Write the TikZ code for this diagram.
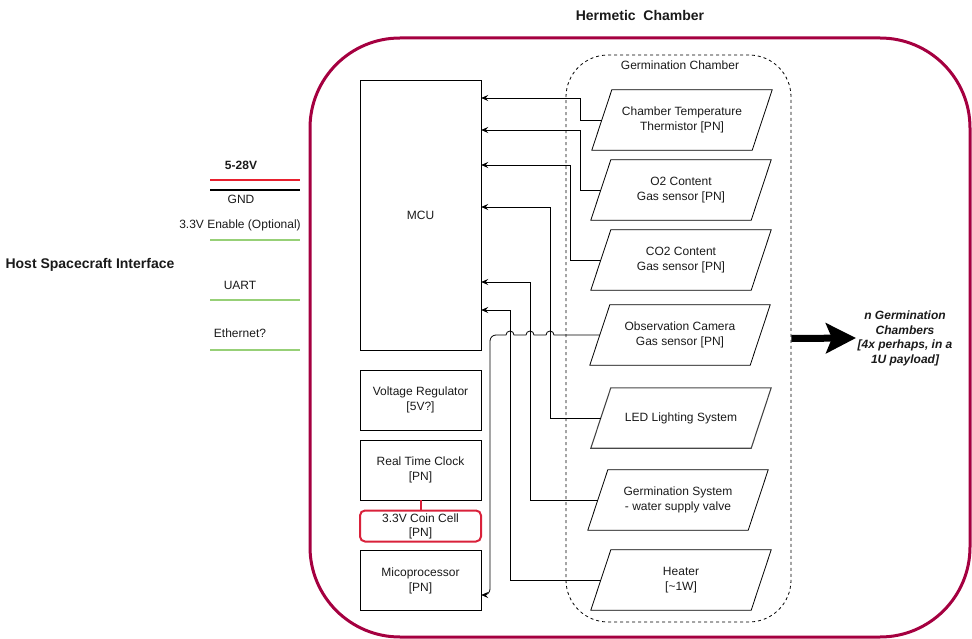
\documentclass[tikz,border=0pt]{standalone}
\usepackage{fontspec}
\setmainfont{Liberation Sans}
\usetikzlibrary{shapes.geometric,arrows.meta}
\definecolor{herm}{HTML}{A50040}
\definecolor{wred}{HTML}{E8202E}
\definecolor{wgreen}{HTML}{97D077}
\definecolor{coinred}{HTML}{D9213A}
\definecolor{txt}{HTML}{1A1A1A}
\newcommand\parashape[2][]{\draw[line width=0.8pt,#1] ([xshift=10pt]#2.north west) -- ([xshift=10pt]#2.north east)
  -- ([xshift=-10pt]#2.south east) -- ([xshift=-10pt]#2.south west) -- cycle;}
\begin{document}
\begin{tikzpicture}[x=1pt,y=-1pt,
  f12/.style={font=\fontsize{12}{15}\selectfont},
  box/.style={draw, rectangle, minimum width=121pt, inner sep=0pt, align=center, text=txt, f12},
  para/.style={rectangle, minimum width=160pt, minimum height=60pt, inner sep=0pt,
    align=center, text=txt, f12},
  arr/.style={-{Stealth[length=7pt,width=6pt,inset=2.5pt]}, line width=0.8pt},
  lbl/.style={inner sep=0pt, text=txt, f12, align=center},
  wire/.style={line width=1.6pt}
]
\useasboundingbox (0,0) rectangle (972,639);

% chambers
\node[draw=herm, line width=3pt, rounded corners=90pt, minimum width=660pt, minimum height=599pt] (herm) at (640,337.5) {};
\node[draw, line width=0.8pt, dash pattern=on 3pt off 3pt, rounded corners=42pt, minimum width=225pt, minimum height=567pt] (gc) at (678.5,338.5) {};
\node[lbl, font=\bfseries\fontsize{14}{16}\selectfont] (hermlbl) at (640,15) {Hermetic\ \ Chamber};
\node[lbl] (gclbl) at (680,65) {Germination Chamber};

% left column boxes
\node[box, minimum height=270pt] (mcu) at (420.5,215) {MCU};
\node[box, minimum height=60pt] (vr) at (420.5,400) {Voltage Regulator\\{[5V?]}};
\node[box, minimum height=60pt] (rtc) at (420.5,470) {Real Time Clock\\{[PN]}};
\node[box, draw=coinred, line width=2pt, rounded corners=5pt, minimum height=31pt,
  font=\fontsize{12}{14}\selectfont] (coin) at (420.5,526) {3.3V Coin Cell\\{[PN]}};
\node[box, minimum height=60pt] (mp) at (420.5,580.5) {Micoprocessor\\{[PN]}};
\draw[coinred, line width=2pt] (rtc.south) -- (coin.north);

% parallelograms
\node[para] (ct) at (682,120) {Chamber Temperature\\Thermistor [PN]};
\node[para] (o2) at (681,190) {O2 Content\\Gas sensor [PN]};
\node[para] (co2) at (681,260) {CO2 Content\\Gas sensor [PN]};
\node[para] (cam) at (680,335) {Observation Camera\\Gas sensor [PN]};
\node[para] (led) at (681,418) {LED Lighting System};
\node[para] (gs) at (678,500) {Germination System\\- water supply valve};
\node[para] (ht) at (681,580) {Heater\\{[\textasciitilde1W]}};
\parashape{ct}
\parashape{o2}
\parashape{co2}
\parashape{cam}
\parashape[draw={rgb,255:red,70;green,70;blue,70}, line width=1.1pt]{led}
\parashape{gs}
\parashape{ht}

% connectors to MCU
\draw[arr] (ct.west) -| (580,98) -- (mcu.east |- 0,98);
\draw[arr] (o2.west) -| (580,130) -- (mcu.east |- 0,130);
\draw[arr] (co2.west) -| (570,165) -- (mcu.east |- 0,165);
\draw[arr] (led.west) -| (550,207) -- (mcu.east |- 0,207);
\draw[arr] (gs.west) -| (530,282) -- (mcu.east |- 0,282);
\draw[arr] (ht.west) -| (510,310) -- (mcu.east |- 0,310);
\draw[arr] (cam.west) -- (554,335) arc[start angle=0, end angle=180, radius=4pt]
  -- (534,335) arc[start angle=0, end angle=180, radius=4pt]
  -- (514,335) arc[start angle=0, end angle=180, radius=4pt]
  [rounded corners=6pt] -- (490,335) -- (490,595) -- (mp.east |- 0,595);

% thick arrow to n chambers
\coordinate (nend) at (856,338);
\draw[line width=7pt, -{Stealth[length=30pt,width=30pt,inset=6pt]}] (gc.east) -- (nend);
\node[lbl, font=\bfseries\itshape\fontsize{12}{14.5}\selectfont] (nlbl) at (905,338.5)
  {n Germination\\Chambers\\{[4x perhaps, in a}\\1U payload]};

% host interface
\node[lbl, font=\bfseries\fontsize{14}{16}\selectfont] (host) at (90,265) {Host Spacecraft Interface};
\node[lbl, font=\bfseries\fontsize{12}{15}\selectfont] (v528) at (241,165) {5-28V};
\node[lbl] (gnd) at (241,199) {GND};
\node[lbl] (en) at (240,225) {3.3V Enable (Optional)};
\node[lbl] (uart) at (240,285) {UART};
\node[lbl] (eth) at (240,333) {Ethernet?};

\coordinate (r1) at (210,180); \coordinate (r2) at (300,180);
\coordinate (g1) at (210,190); \coordinate (g2) at (300,190);
\coordinate (e1) at (210,240); \coordinate (e2) at (300,240);
\coordinate (u1) at (210,300); \coordinate (u2) at (300,300);
\coordinate (t1) at (210,350); \coordinate (t2) at (300,350);
\draw[wire, wred] (r1) -- (r2);
\draw[wire, black, line width=2.2pt] (g1) -- (g2);
\draw[wire, wgreen] (e1) -- (e2);
\draw[wire, wgreen] (u1) -- (u2);
\draw[wire, wgreen] (t1) -- (t2);
\end{tikzpicture}
\end{document}
